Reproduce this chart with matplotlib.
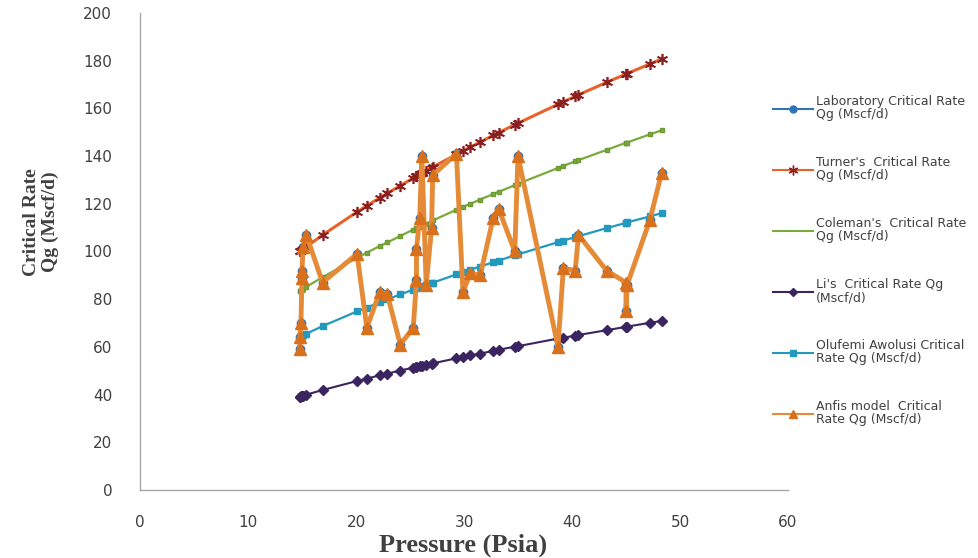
import matplotlib
matplotlib.use('Agg')
import matplotlib.pyplot as plt
from matplotlib.lines import Line2D

# ---- data ----
pressure = [14.8, 14.8, 14.9, 15.0, 15.0, 15.1, 15.4, 16.9, 20.1, 21.0,
            22.2, 22.9, 24.1, 25.3, 25.6, 25.6, 25.9, 26.1, 26.5, 27.0,
            27.1, 29.3, 29.9, 30.6, 31.5, 32.7, 33.2, 34.7, 35.0, 38.7,
            39.2, 40.3, 40.6, 43.2, 45.0, 45.0, 45.1, 47.2, 48.3]

anfis = [59, 64, 70, 89, 92, 102, 107, 87, 99, 68,
         83, 82, 61, 68, 88, 101, 114, 140, 86, 110,
         132, 141, 83, 91, 90, 114, 118, 100, 140, 60,
         93, 92, 107, 92, 87, 75, 86, 113, 133]

# laboratory values sit under the Anfis curve in the reference
laboratory = [59, 64, 70, 89, 92, 102, 107, 87, 99, 68,
              83, 82, 61, 68, 88, 101, 114, 140, 86, 110,
              132, 141, 83, 91, 90, 114, 118, 100, 140, 60,
              93, 92, 107, 92, 87, 75, 86, 113, 133]

turner = [100.0, 100.0, 100.4, 100.7, 100.7, 101.0, 102.0, 106.9, 116.6, 119.2,
          122.5, 124.4, 127.6, 130.8, 131.6, 131.6, 132.3, 132.8, 133.8, 135.1,
          135.4, 140.7, 142.2, 143.8, 145.9, 148.7, 149.8, 153.2, 153.8, 161.7,
          162.8, 165.0, 165.7, 170.9, 174.4, 174.4, 174.6, 178.6, 180.7]

coleman = [83.5, 83.5, 83.8, 84.0, 84.0, 84.3, 85.2, 89.2, 97.3, 99.5,
           102.3, 103.8, 106.5, 109.2, 109.8, 109.8, 110.4, 110.9, 111.7, 112.8,
           113.0, 117.5, 118.7, 120.0, 121.8, 124.1, 125.0, 127.8, 128.4, 135.0,
           135.9, 137.8, 138.3, 142.6, 145.6, 145.6, 145.7, 149.1, 150.8]

li = [39.2, 39.2, 39.4, 39.5, 39.5, 39.6, 40.0, 41.9, 45.7, 46.7,
      48.1, 48.8, 50.1, 51.3, 51.6, 51.6, 51.9, 52.1, 52.5, 53.0,
      53.1, 55.2, 55.8, 56.4, 57.2, 58.3, 58.8, 60.1, 60.3, 63.5,
      63.9, 64.7, 65.0, 67.0, 68.4, 68.4, 68.5, 70.1, 70.9]

olufemi = [64.2, 64.2, 64.5, 64.7, 64.7, 64.9, 65.5, 68.7, 74.9, 76.5,
           78.7, 79.9, 82.0, 84.0, 84.5, 84.5, 85.0, 85.3, 86.0, 86.8,
           86.9, 90.4, 91.3, 92.4, 93.7, 95.5, 96.2, 98.4, 98.8, 103.9,
           104.6, 106.0, 106.4, 109.8, 112.0, 112.0, 112.2, 114.7, 116.1]

labels = ["Laboratory Critical Rate\nQg (Mscf/d)",
          "Turner's  Critical Rate\nQg (Mscf/d)",
          "Coleman's  Critical Rate\nQg (Mscf/d)",
          "Li's  Critical Rate Qg\n(Mscf/d)",
          "Olufemi Awolusi Critical\nRate Qg (Mscf/d)",
          "Anfis model  Critical\nRate Qg (Mscf/d)"]

fig = plt.figure(figsize=(9.79, 5.58), dpi=100)
ax = fig.add_axes([140 / 979, 1 - 490 / 558, 648 / 979, 477 / 558])

ax.plot(pressure, laboratory, color='#2E75B6', marker='o', ms=6, lw=2, zorder=2)
ax.plot(pressure, turner, color='#E8622A', lw=2.2, marker=(6, 2, 0), ms=8,
        mec='#8B1E1E', mfc='#8B1E1E', mew=1.2, zorder=3)
ax.plot(pressure, coleman, color='#7AAA3C', lw=1.6, marker='s', ms=3,
        mec='#6E9A33', mfc='#7AAA3C', zorder=3)
ax.plot(pressure, li, color='#3A2560', lw=1.5, marker='D', ms=5, zorder=3)
ax.plot(pressure, olufemi, color='#2399BD', lw=1.6, marker='s', ms=5, zorder=3)
ax.plot(pressure, anfis, color='#E58A36', lw=3.5, marker='^', ms=8,
        mec='#D9701C', mfc='#D9701C', zorder=4)

ax.set_xlim(0, 60)
ax.set_ylim(0, 200)
ax.set_xticks(range(0, 61, 10))
ax.set_yticks(range(0, 201, 20))
for s in ['top', 'right']:
    ax.spines[s].set_visible(False)
for s in ['left', 'bottom']:
    ax.spines[s].set_color('#A6A6A6')
    ax.spines[s].set_linewidth(1.0)
ax.tick_params(axis='both', length=0, labelsize=11, labelcolor='#404040')
ax.tick_params(axis='x', pad=18)
ax.tick_params(axis='y', pad=20)

fig.text(463 / 979, 1 - 545 / 558, 'Pressure (Psia)', ha='center', va='center',
         family='Liberation Serif', weight='bold', fontsize=19, color='#404040')
fig.text(41 / 979, 1 - 222 / 558, 'Critical Rate\nQg (Mscf/d)', ha='center', va='center',
         rotation=90, family='Liberation Serif', weight='bold', fontsize=14,
         color='#404040', linespacing=1.2)

handles = [
    Line2D([], [], color='#2E75B6', marker='o', ms=5, lw=1.5),
    Line2D([], [], color='#E8622A', marker=(6, 2, 0), ms=7, mec='#8B1E1E', lw=1.5),
    Line2D([], [], color='#7AAA3C', lw=1.5),
    Line2D([], [], color='#3A2560', marker='D', ms=4, lw=1.5),
    Line2D([], [], color='#2399BD', marker='s', ms=4, lw=1.5),
    Line2D([], [], color='#E58A36', marker='^', ms=6, mec='#D9701C', mfc='#D9701C', lw=1.5),
]
leg = fig.legend(handles, labels, loc='upper left', bbox_to_anchor=(762 / 979, 1 - 84 / 558),
                 frameon=False, labelspacing=2.8, handlelength=3.2,
                 handletextpad=0.2, prop={'family': 'DejaVu Sans', 'size': 9})
for t in leg.get_texts():
    t.set_color('#404040')
    t.set_linespacing(1.0)

plt.savefig('out.png', dpi=100)
